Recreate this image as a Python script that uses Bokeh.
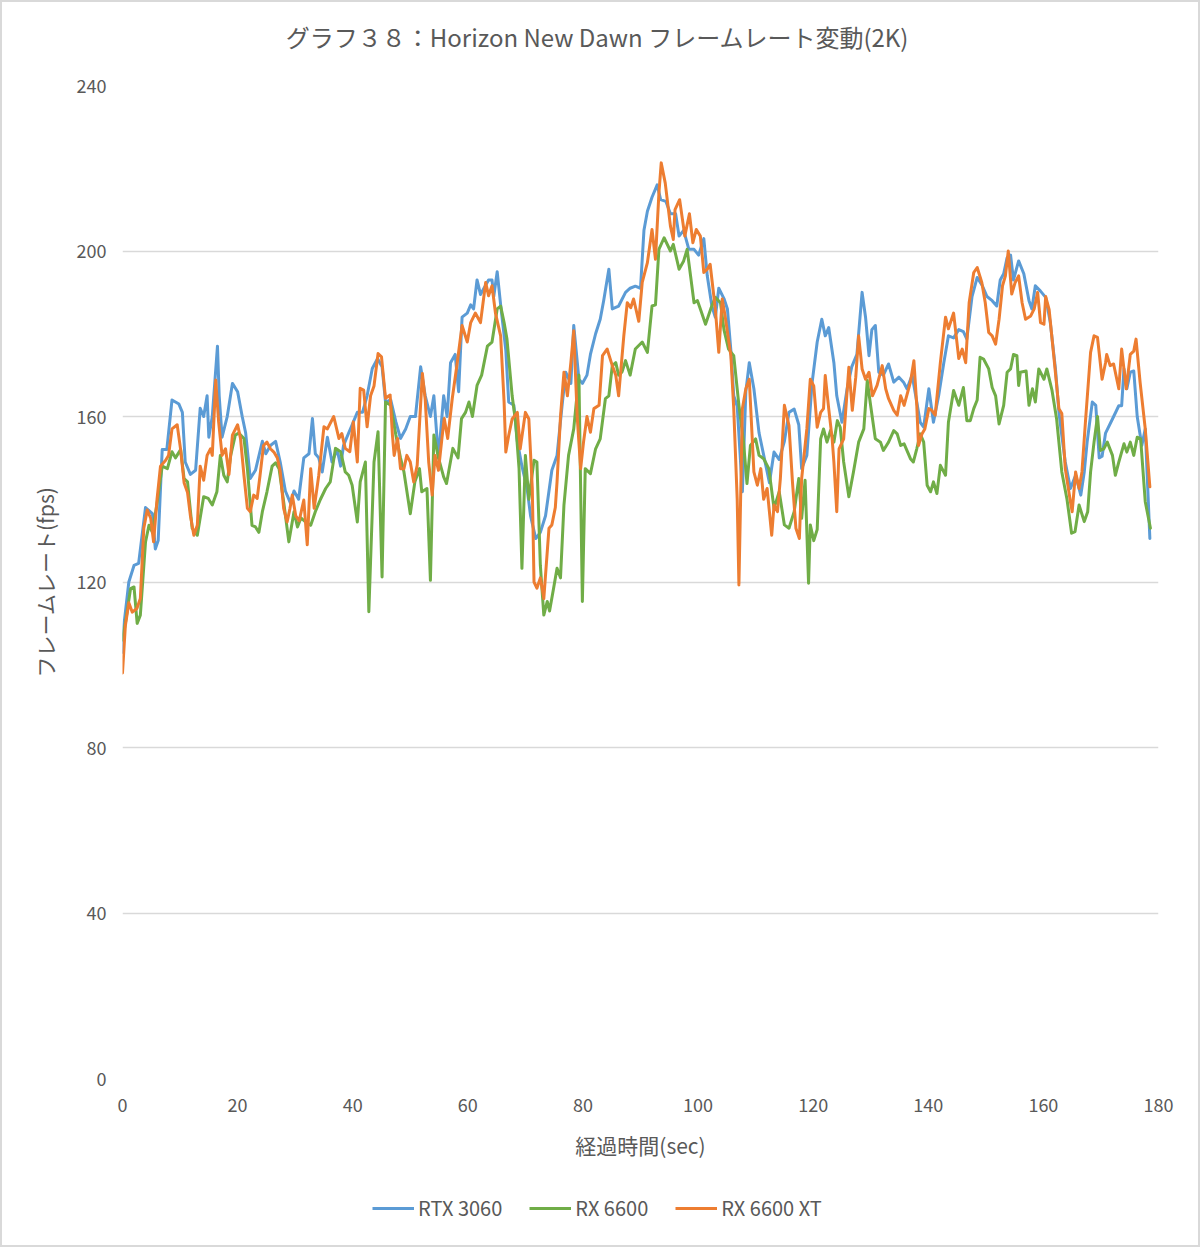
from bokeh.plotting import figure
from bokeh.layouts import column
from bokeh.models import ColumnDataSource, Range1d, FixedTicker, Legend, LegendItem, Label
from bokeh.embed import file_html
from bokeh.resources import INLINE

title_text = "グラフ３８：Horizon New Dawn フレームレート変動(2K)"
x_label = "経過時間(sec)"
y_label = "フレームレート(fps)"
series_names = ["RTX 3060", "RX 6600", "RX 6600 XT"]
x_ticks = [0, 20, 40, 60, 80, 100, 120, 140, 160, 180]
y_ticks = [0, 40, 80, 120, 160, 200, 240]

rtx3060_t = [0, 0.2, 1.1, 2.0, 2.8, 4.0, 5.2, 5.7, 6.2, 6.9, 7.7, 8.6, 9.8, 10.4, 10.9, 11.8, 12.7, 13.5, 14.1, 14.7, 15.0, 15.6, 16.5, 16.8, 17.3, 18.2, 19.1, 20.0, 20.8, 21.4, 22.2, 23.1, 24.3, 24.9, 25.7, 26.6, 27.4, 28.3, 29.2, 29.8, 30.6, 31.5, 32.4, 33.0, 33.5, 34.1, 34.7, 35.6, 36.4, 37.3, 37.9, 38.4, 39.0, 39.9, 40.8, 41.7, 42.5, 43.4, 44.3, 45.1, 45.7, 46.6, 47.5, 48.3, 49.2, 50.0, 50.9, 51.8, 52.6, 53.5, 54.1, 54.9, 55.8, 56.4, 57.0, 57.8, 58.4, 59.0, 59.9, 60.5, 61.0, 61.6, 62.2, 62.8, 63.6, 64.2, 64.5, 65.1, 65.7, 66.6, 67.1, 68.0, 68.6, 69.4, 70.3, 70.9, 71.8, 72.6, 73.5, 74.6, 75.5, 76.4, 77.0, 77.9, 78.4, 79.3, 79.9, 80.7, 81.3, 82.2, 83.0, 83.6, 84.5, 85.1, 86.2, 87.4, 88.2, 89.1, 90.0, 90.3, 90.6, 91.2, 92.0, 92.9, 93.5, 94.4, 95.2, 96.1, 96.7, 97.5, 98.4, 99.3, 100.1, 101.0, 101.6, 102.4, 103.0, 103.6, 104.5, 105.1, 105.7, 106.2, 106.8, 107.7, 108.3, 108.9, 109.7, 110.6, 111.8, 112.4, 113.2, 114.1, 115.0, 115.8, 116.7, 117.5, 118.0, 118.9, 119.8, 120.7, 121.5, 122.1, 122.7, 123.6, 124.1, 125.0, 125.9, 126.7, 127.6, 128.5, 129.1, 129.7, 130.2, 130.8, 131.4, 132.2, 133.1, 134.0, 134.9, 135.7, 136.3, 137.2, 138.0, 138.6, 139.2, 140.1, 140.9, 141.8, 142.7, 143.5, 144.4, 145.3, 146.1, 146.7, 147.6, 148.5, 149.4, 150.2, 151.1, 151.9, 152.5, 153.1, 153.7, 154.3, 154.8, 155.7, 156.6, 157.5, 158.0, 158.6, 159.5, 160.4, 161.2, 162.1, 162.7, 163.2, 163.8, 164.7, 165.6, 166.5, 167.1, 167.6, 168.5, 169.1, 169.7, 170.2, 170.8, 172.0, 173.1, 173.6, 174.0, 174.5, 175.1, 175.7, 176.3, 177.1, 177.7, 178.5]
rtx3060_v = [103, 109, 120, 124, 124.5, 138, 136.5, 128, 130, 152, 152, 164, 163, 161, 149, 146, 147, 162, 160, 165, 155, 160, 177, 165, 155, 160, 168, 166, 160, 156, 145, 147, 154, 151, 153, 154, 149, 142, 139, 142, 140, 150, 151, 159.5, 151, 150, 146.6, 155, 149, 152, 148, 153, 155, 158, 161, 161, 165, 171.6, 174, 172, 163.5, 164, 158.7, 154.7, 157, 160, 160, 172, 165, 160, 165, 150, 165, 160, 173, 175, 166, 184, 185, 187, 186, 193, 189.5, 191, 193, 193, 189, 195, 187, 176, 163.5, 162.7, 154, 148, 142.6, 136, 130.5, 132, 136, 147, 150.6, 163, 170.7, 168, 182, 169, 168, 170, 175, 180, 183.5, 188, 195.6, 186, 186.7, 190, 191, 191.5, 191, 198, 205, 209.6, 213, 216, 212.4, 212, 209, 209, 203.6, 205, 200.4, 200.4, 199, 203, 194, 186.7, 184, 191, 188.5, 186, 176, 165, 162.5, 141.8, 166, 173, 166.7, 156, 148, 144, 151.4, 149.6, 154, 161, 161.8, 158, 147.4, 150.6, 168, 178, 183.5, 179.5, 181.5, 173, 165, 158.6, 166.7, 172, 175, 190, 184, 174.7, 181, 182, 170.7, 170, 172.7, 168.3, 169.5, 168.3, 166.7, 170, 163.5, 158.6, 157.4, 166.7, 158.6, 165, 173, 179.5, 179, 181, 180.5, 178.7, 189, 193.6, 191.6, 189, 188, 186.7, 193, 194.5, 198.4, 199, 193, 197.6, 194.5, 188, 186, 191.6, 190.3, 188.8, 182.7, 171.5, 161, 155.4, 149, 142.6, 145.8, 141, 146.6, 153.8, 163.5, 162.7, 150, 150.4, 156, 159.4, 162.6, 162.6, 171.5, 166.7, 170.7, 171, 160, 153, 157, 130.5]

rx6600_t = [0, 0.5, 1.4, 2.0, 2.55, 3.1, 4.0, 4.6, 5.2, 6.0, 6.9, 7.8, 8.6, 9.2, 10.1, 10.7, 11.3, 12.1, 13.0, 14.1, 14.9, 15.6, 16.4, 17.0, 17.6, 18.2, 18.8, 19.6, 20.2, 21.1, 21.7, 22.5, 23.1, 23.7, 24.3, 25.1, 26.0, 26.6, 27.2, 28.0, 28.9, 29.8, 30.4, 31.0, 31.8, 32.7, 33.5, 34.4, 35.3, 36.1, 37.0, 37.9, 38.7, 39.3, 39.9, 40.8, 41.3, 42.2, 42.8, 43.1, 43.7, 44.4, 45.1, 45.7, 46.6, 47.5, 48.3, 48.9, 50.0, 50.8, 51.6, 52.0, 52.9, 53.5, 54.1, 54.9, 55.8, 56.3, 57.4, 58.3, 58.9, 59.6, 60.2, 60.8, 61.6, 62.4, 63.4, 64.2, 65.1, 65.7, 66.3, 66.8, 67.7, 68.3, 68.9, 69.4, 70.0, 70.6, 71.5, 72.0, 72.6, 73.2, 73.8, 74.2, 74.9, 75.5, 76.1, 76.7, 77.5, 78.4, 79.3, 79.9, 80.4, 81.3, 82.2, 83.0, 83.9, 84.5, 85.1, 85.7, 86.2, 86.8, 87.4, 88.2, 89.1, 90.3, 91.2, 92.0, 92.6, 93.2, 94.1, 95.2, 95.7, 96.7, 97.5, 98.1, 98.7, 99.3, 99.9, 100.4, 101.3, 102.2, 103.0, 103.9, 104.5, 105.3, 106.2, 107.1, 107.9, 108.5, 109.1, 110.0, 110.6, 111.4, 112.3, 113.2, 114.1, 115.0, 115.8, 116.7, 117.5, 118.0, 118.6, 119.2, 119.5, 120.1, 120.7, 121.3, 121.8, 122.4, 123.0, 123.6, 124.2, 124.7, 125.3, 126.2, 127.0, 127.9, 128.8, 129.4, 129.9, 130.8, 131.7, 132.2, 133.1, 134.0, 134.6, 135.2, 135.8, 136.9, 137.4, 138.0, 138.6, 139.2, 139.8, 140.4, 140.9, 141.5, 142.1, 143.0, 143.5, 144.4, 145.3, 146.1, 146.7, 147.3, 147.9, 148.5, 149.0, 149.6, 150.5, 151.1, 151.7, 152.3, 153.1, 153.7, 154.3, 154.8, 155.4, 155.7, 156.0, 157.0, 157.5, 158.1, 158.6, 159.2, 160.1, 160.6, 161.5, 162.3, 163.2, 164.1, 164.9, 165.5, 166.2, 167.1, 167.7, 168.2, 168.8, 169.4, 169.9, 170.5, 171.1, 172.0, 172.5, 173.1, 174.0, 174.5, 175.1, 175.7, 176.3, 176.9, 177.7, 178.6]
rx6600_v = [106, 110, 118.4, 118.8, 110, 112, 129.7, 133.7, 132, 139, 148, 147.4, 151.5, 150, 152, 145, 144.2, 133, 131.3, 140.6, 140.2, 138.6, 141.8, 150.6, 145.8, 144.2, 150.6, 155.5, 156, 154.7, 147.4, 133.7, 133.3, 132, 137, 141.8, 148, 148.8, 147.4, 139.4, 129.7, 137, 133.3, 135.5, 134.5, 133.7, 137, 140, 142.6, 144.2, 152.3, 151.5, 146.6, 145.8, 143.4, 134.5, 144.2, 149, 112.8, 125, 149, 156.3, 121.2, 163.5, 162.7, 155.5, 150, 146.6, 136.5, 144.2, 147.4, 141.8, 142.6, 120.4, 155.5, 150, 145.4, 143.8, 152.3, 150, 159.5, 161, 163.5, 160, 167.5, 170, 177, 178, 186, 186.7, 182.7, 178.7, 165, 158.6, 147.4, 123.3, 150.6, 140, 149.4, 149, 124, 112, 115.3, 113, 118.5, 123.3, 121, 138.6, 150.6, 157, 170, 115.3, 147.4, 146.2, 152.2, 154.6, 164.3, 165, 172.3, 173, 170, 170.8, 173.5, 170, 176.3, 178, 175.5, 186.7, 187, 200.4, 203.2, 200, 201.6, 195.6, 197.6, 200.4, 194, 187.5, 188, 186, 182.3, 186, 188.8, 187.5, 181, 176.3, 174.7, 162.7, 153.8, 143.8, 153, 154.6, 150.6, 149.8, 147.4, 137.8, 141.8, 133.8, 133, 137, 145, 135.4, 144.6, 119.7, 133.8, 130, 132.7, 154.6, 157, 153.8, 156.6, 153.8, 159, 157.4, 149, 140.6, 146.6, 153.8, 157, 168.7, 163.5, 154.6, 153.8, 151.8, 153.8, 156.6, 155.8, 153, 153.4, 149.8, 149, 152.2, 155.8, 153.8, 143.4, 141.8, 144.2, 141.4, 148.2, 145.8, 158.6, 166.3, 162.7, 167, 159, 159, 161.9, 164, 174.3, 173.9, 171.5, 167, 165, 158.2, 162.7, 170.7, 171.5, 175, 174.7, 167.5, 170.7, 171, 162.7, 166.7, 163.5, 171.5, 169, 171.5, 166.3, 159.4, 146.6, 140, 131.8, 132.2, 138.6, 134.6, 137, 146.6, 153.8, 160, 151.8, 152.2, 153.8, 150.6, 145.8, 149, 153.4, 151.4, 153.8, 150.6, 155, 154.6, 139.4, 133]

rx6600xt_t = [0, 0.5, 1.1, 1.7, 2.5, 3.1, 3.7, 4.3, 4.9, 5.4, 6.0, 6.6, 7.5, 8.0, 8.6, 9.5, 10.1, 10.7, 11.3, 11.8, 12.4, 13.0, 13.5, 14.1, 14.7, 15.3, 15.6, 16.2, 16.7, 17.3, 17.9, 18.5, 19.1, 20.0, 20.5, 21.1, 21.7, 22.2, 22.8, 23.4, 23.9, 24.5, 25.1, 25.7, 26.3, 26.9, 27.4, 28.0, 28.6, 29.1, 29.5, 30.1, 30.7, 31.5, 32.1, 32.7, 33.3, 34.1, 35.0, 35.6, 36.7, 37.6, 38.1, 38.7, 39.5, 40.1, 40.8, 41.3, 41.9, 42.5, 43.1, 43.7, 44.4, 45.0, 45.7, 46.5, 46.9, 47.2, 47.8, 48.3, 48.9, 49.4, 50.0, 50.6, 51.2, 52.1, 52.6, 53.2, 53.8, 54.3, 54.9, 55.5, 55.9, 56.5, 57.3, 58.1, 59.0, 59.9, 60.5, 61.3, 62.2, 63.1, 63.6, 64.2, 64.8, 65.7, 66.3, 66.6, 67.1, 67.7, 68.6, 69.1, 70.0, 70.6, 71.2, 71.5, 72.0, 72.6, 73.2, 74.1, 74.6, 75.2, 75.5, 76.1, 76.7, 77.3, 77.9, 78.4, 79.0, 79.6, 80.1, 80.7, 81.3, 81.9, 82.8, 83.4, 84.2, 85.1, 85.7, 86.2, 87.1, 87.7, 88.3, 88.8, 89.7, 90.3, 91.2, 92.0, 92.6, 93.2, 93.6, 94.3, 95.2, 95.7, 96.0, 96.8, 97.7, 98.5, 99.1, 99.7, 100.4, 101.0, 101.6, 102.1, 103.0, 103.6, 104.2, 104.7, 105.7, 106.2, 106.8, 107.1, 107.7, 108.3, 108.9, 109.7, 110.3, 110.9, 111.4, 112.0, 112.8, 113.2, 113.8, 114.3, 115.0, 115.8, 116.4, 117.0, 117.6, 118.0, 118.9, 119.5, 120.1, 120.7, 121.3, 121.8, 122.1, 122.7, 123.3, 123.6, 124.1, 124.5, 125.3, 126.2, 126.8, 127.4, 127.9, 128.5, 129.1, 129.7, 130.3, 131.1, 132.0, 132.6, 133.1, 134.0, 134.6, 135.2, 135.8, 136.9, 137.5, 138.0, 138.3, 138.9, 139.4, 140.1, 140.6, 141.2, 142.1, 143.0, 143.5, 144.4, 145.3, 145.9, 146.5, 147.1, 147.9, 148.5, 149.3, 149.9, 150.5, 151.1, 151.7, 152.3, 152.9, 153.4, 153.9, 154.5, 155.1, 155.7, 156.3, 156.9, 157.8, 158.4, 159.0, 159.5, 160.1, 160.4, 161.0, 161.8, 162.7, 163.2, 163.8, 164.7, 165.0, 165.6, 166.2, 166.7, 167.3, 168.2, 168.8, 169.4, 170.2, 170.8, 171.0, 171.6, 172.2, 173.1, 173.6, 174.2, 174.4, 175.1, 175.7, 176.1, 176.8, 177.7, 178.5]
rx6600xt_v = [98, 109.5, 115, 112.7, 113.6, 116, 133, 137.4, 135.4, 129.7, 140, 148, 149.4, 150.6, 157, 158, 152, 144, 141.6, 136, 131.3, 133.7, 148, 144.6, 150.6, 152.2, 150.6, 168.8, 158.7, 150.6, 152.2, 146, 155.5, 158, 154.7, 145.8, 137.8, 137, 141, 140.2, 145.8, 153, 153.8, 152.2, 151.4, 150, 146.8, 137.8, 134.5, 137.8, 141, 136, 134.8, 139.8, 129, 147.4, 137.8, 145.8, 157.5, 157, 160, 154.7, 155.9, 152.3, 151.5, 158.7, 149, 166.8, 166.4, 157.5, 165, 167.4, 175.2, 174.4, 164.4, 165.2, 155.5, 150.6, 154.7, 147.4, 147.4, 150.6, 149, 144.2, 148.2, 170.4, 164, 149, 141, 150.6, 147, 154.7, 159.5, 154.7, 164.4, 172.4, 182, 178, 182.7, 185, 182.7, 192.4, 189.2, 191.6, 185, 179.5, 163.5, 151.4, 155.4, 159.4, 161, 152.2, 161, 159.4, 142.6, 120, 118.5, 121, 116, 133, 133.8, 138, 144.2, 160, 170.7, 165, 173, 180.7, 160, 147.4, 153.8, 160, 156.2, 161.9, 162.7, 174.7, 176.3, 172.3, 170, 165, 179.5, 187.5, 186.3, 188.4, 183, 192.4, 197.2, 205.2, 198, 214, 221.3, 216.4, 206, 202.8, 210, 212.4, 203.6, 209, 202, 205.2, 203.6, 194.8, 195.6, 196.8, 186, 175.5, 188.4, 184.3, 174.7, 161.9, 140, 119.3, 161.9, 166.7, 169, 146.6, 143.4, 147.4, 140, 142.6, 131.3, 138.6, 137, 145, 162.7, 157.8, 144.2, 133, 130.5, 145, 157, 169, 167.4, 157.4, 161, 161.9, 169.9, 161.9, 154.6, 149, 137, 152.2, 154.6, 171.9, 161.5, 169.5, 179.5, 171.5, 169, 170.7, 165, 167.5, 172.3, 166.7, 164.3, 161.5, 160.3, 165, 162.7, 168.3, 173.5, 162.7, 153, 155.8, 157, 161.9, 161.5, 160.3, 173, 184, 181.2, 185, 174, 176.3, 173, 187.5, 194.8, 196, 192.4, 187.5, 180.3, 179.5, 177.5, 183.5, 191.6, 194, 200, 189.6, 192.4, 194, 187.5, 183.5, 184.3, 186, 190, 182.7, 182.3, 189, 185.8, 174.7, 161.9, 160.7, 147.4, 139.4, 137, 146.6, 142.6, 146.6, 158.6, 175.5, 179.5, 179.1, 169, 173, 175, 172.3, 172.7, 166.7, 176.3, 169, 166.7, 175, 175.8, 178.7, 168.3, 157, 143]

colors = ["#5b9bd5", "#70ad47", "#ed7d31"]
FONT = "Noto Sans CJK JP"
TXT = "#595959"
ts = [rtx3060_t, rx6600_t, rx6600xt_t]
vs = [rtx3060_v, rx6600_v, rx6600xt_v]
sources = [ColumnDataSource(dict(t=t, v=v)) for t, v in zip(ts, vs)]


def bare(height):
    f = figure(width=1196, height=height, output_backend="svg", toolbar_location=None,
               x_axis_location=None, y_axis_location=None,
               x_range=Range1d(0, 180), y_range=Range1d(1000, 1001),
               min_border=0)
    f.grid.grid_line_color = None
    f.outline_line_color = None
    f.background_fill_color = "white"
    f.border_fill_color = "white"
    return f


# title strip (its frame is aligned with the main chart's frame by the column)
top = bare(60)
top.add_layout(Label(x=475, y=26, x_units="screen", y_units="screen", text=title_text,
                     text_align="center", text_baseline="middle", text_font=FONT,
                     text_font_size="24px", text_color=TXT))

# main chart
p = figure(width=1196, height=1118, output_backend="svg", toolbar_location=None,
           x_range=Range1d(0, 180), y_range=Range1d(0, 240),
           min_border_left=120, min_border_right=40, min_border_top=23, min_border_bottom=102)
p.outline_line_color = None
p.background_fill_color = "white"
p.border_fill_color = "white"
p.xaxis.ticker = FixedTicker(ticks=x_ticks)
p.yaxis.ticker = FixedTicker(ticks=y_ticks)
p.xgrid.grid_line_color = None
p.ygrid.grid_line_color = "#d9d9d9"
p.ygrid.grid_line_width = 1.3
for ax in (p.xaxis, p.yaxis):
    ax.axis_line_color = None
    ax.major_tick_line_color = None
    ax.minor_tick_line_color = None
    ax.major_tick_out = 0
    ax.major_tick_in = 0
    ax.minor_tick_out = 0
    ax.major_label_text_font = FONT
    ax.major_label_text_font_size = "18px"
    ax.major_label_text_color = TXT
    ax.axis_label_text_font = FONT
    ax.axis_label_text_font_size = "21px"
    ax.axis_label_text_color = TXT
    ax.axis_label_text_font_style = "normal"
p.xaxis.axis_label = x_label
p.yaxis.axis_label = y_label
p.xaxis.major_label_standoff = 19
p.xaxis.axis_label_standoff = 15
p.yaxis.major_label_standoff = 16
p.yaxis.axis_label_standoff = 14

for src, c in zip(sources, colors):
    p.line("t", "v", source=src, line_color=c, line_width=3, line_join="round", line_cap="round")

# legend strip (same series, drawn outside its visible range; only the legend shows)
bottom = bare(65)
leg_renderers = [bottom.line("t", "v", source=src, line_color=c, line_width=3)
                 for src, c in zip(sources, colors)]
legend = Legend(items=[LegendItem(label=n, renderers=[r]) for n, r in zip(series_names, leg_renderers)],
                orientation="horizontal", location=(250, 23),
                border_line_color=None, background_fill_alpha=0,
                label_text_font=FONT, label_text_font_size="20px", label_text_color=TXT,
                glyph_width=42, label_standoff=4, spacing=27, padding=0, margin=0)
bottom.add_layout(legend)

layout = column(top, p, bottom, spacing=0, styles={"border": "2px solid #d9d9d9"})

open("out.html", "w").write(file_html(layout, INLINE))
